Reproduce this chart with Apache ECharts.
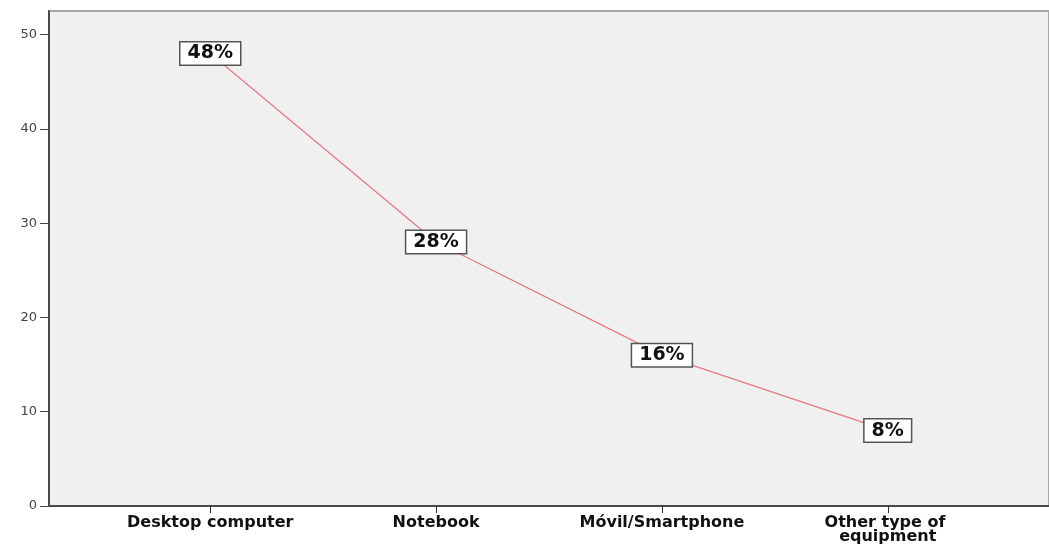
<!DOCTYPE html>
<html>
<head>
<meta charset="utf-8">
<script src="https://cdn.jsdelivr.net/npm/echarts@6/dist/echarts.min.js"></script>
<style>
html,body{margin:0;padding:0;background:#fff;}
#c{width:1049px;height:550px;}
</style>
</head>
<body>
<div id="c"></div>
<script>
var categories = ["Desktop computer", "Notebook", "Móvil/Smartphone", "Other type of equipment"];
var values = [48, 28, 16, 8];
var valueLabels = ["48%", "28%", "16%", "8%"];
var yTicks = [0, 10, 20, 30, 40, 50];

var chart = echarts.init(document.getElementById('c'));
var positions = categories.map(function (_, i) { return i; });
var seriesData = values.map(function (v, i) { return [i, v]; });

chart.setOption({
  animation: false,
  grid: {
    left: 49, right: -2, top: 11, bottom: 44,
    show: true,
    backgroundColor: '#f0f0f0',
    borderColor: '#a8a8a8',
    borderWidth: 2
  },
  xAxis: {
    type: 'value',
    min: -0.714,
    max: 3.714,
    splitLine: { show: false },
    axisLine: { show: true, onZero: false, lineStyle: { color: '#4a4a4a', width: 2 } },
    axisTick: { show: true, customValues: positions, length: 7, lineStyle: { color: '#333', width: 1 } },
    axisLabel: {
      customValues: positions,
      formatter: function (v) { return categories[Math.round(v)]; },
      color: '#111',
      fontFamily: 'DejaVu Sans',
      fontWeight: 'bold',
      fontSize: 16,
      lineHeight: 14,
      margin: 10,
      width: 170,
      overflow: 'break'
    }
  },
  yAxis: {
    type: 'value',
    min: 0,
    max: 52.5,
    interval: 10,
    splitLine: { show: false },
    axisLine: { show: true, onZero: false, lineStyle: { color: '#4a4a4a', width: 2 } },
    axisTick: { show: true, customValues: yTicks, length: 9, lineStyle: { color: '#444', width: 1 } },
    axisLabel: {
      customValues: yTicks,
      color: '#444',
      fontFamily: 'DejaVu Sans',
      fontSize: 13,
      margin: 12
    }
  },
  series: [{
    type: 'line',
    data: seriesData,
    symbol: 'circle',
    symbolSize: 1,
    itemStyle: { color: '#e47a84' },
    lineStyle: { color: '#e47a84', width: 1.3 },
    label: {
      show: true,
      position: 'inside',
      formatter: function (p) { return valueLabels[p.dataIndex]; },
      color: '#111',
      fontFamily: 'DejaVu Sans',
      fontWeight: 'bold',
      fontSize: 19,
      backgroundColor: '#ffffff',
      borderColor: '#555',
      borderWidth: 1.5,
      padding: [2, 7, 1, 7]
    }
  }]
});
</script>
</body>
</html>
